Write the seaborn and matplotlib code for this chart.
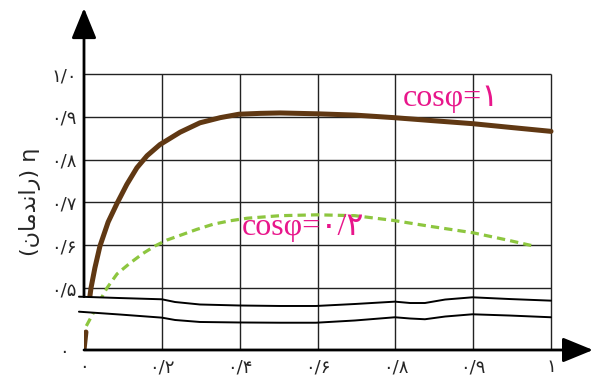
import numpy as np
import pandas as pd
import matplotlib
matplotlib.use("Agg")
import matplotlib.pyplot as plt
import seaborn as sns

# --- data ---
x_ticks = [0, 0.2, 0.4, 0.6, 0.8, 0.9, 1.0]
x_labels = ["۰", "۰/۲", "۰/۴", "۰/۶", "۰/۸", "۰/۹", "۱"]
y_ticks = [0, 0.5, 0.6, 0.7, 0.8, 0.9, 1.0]
y_labels = ["۰", "۰/۵", "۰/۶", "۰/۷", "۰/۸", "۰/۹", "۱/۰"]

# cos(phi) = 1  (load fraction, efficiency); short piece below the axis break
pf1_low_load = [0, 0.005]
pf1_low_eta = [0, 0.145]
pf1_load = [0.015, 0.018, 0.028, 0.041, 0.062, 0.085, 0.11, 0.136, 0.162, 0.195, 0.247,
            0.298, 0.35, 0.398, 0.452, 0.504, 0.599, 0.696, 0.797, 0.848, 0.899, 0.949, 1.0]
pf1_eta = [0.43, 0.5, 0.547, 0.598, 0.654, 0.698, 0.742, 0.781, 0.809, 0.835, 0.864,
           0.886, 0.898, 0.906, 0.908, 0.909, 0.907, 0.904, 0.898, 0.891, 0.884, 0.875, 0.866]

# cos(phi) = 0.2
pf2_load = [0.006, 0.023, 0.041, 0.059, 0.085, 0.118, 0.152, 0.182, 0.213, 0.247, 0.29,
            0.332, 0.375, 0.419, 0.504, 0.599, 0.696, 0.794, 0.845, 0.9, 0.944, 0.978]
pf2_eta = [0.194, 0.293, 0.399, 0.5, 0.533, 0.558, 0.581, 0.598, 0.612, 0.623, 0.637,
           0.649, 0.657, 0.663, 0.669, 0.671, 0.669, 0.658, 0.644, 0.629, 0.612, 0.598]

# axis-break marks (wavy lines between 0 and 0.5)
brk_x = [-0.013, 0.093, 0.2, 0.234, 0.298, 0.398, 0.504, 0.596, 0.696, 0.799, 0.819,
         0.838, 0.864, 0.899, 0.947, 1.0]
brk_upper = [0.43, 0.419, 0.409, 0.387, 0.367, 0.359, 0.355, 0.355, 0.371, 0.39, 0.379,
             0.379, 0.407, 0.425, 0.411, 0.398]
brk_lower = [0.309, 0.286, 0.261, 0.242, 0.226, 0.222, 0.22, 0.22, 0.238, 0.264, 0.254,
             0.248, 0.27, 0.288, 0.278, 0.264]

label_pf1 = "cosφ=۱"
label_pf2 = "cosφ=۰/۲"
# visual order, presentation forms (matplotlib does not shape Arabic script)
y_title = "(\ufee5\ufe8e\ufee3\ufeaa\ufee7\ufe8d\ufead) η"

BROWN = "#603813"
GREEN = "#8dc63f"
MAGENTA = "#e8168b"

SQ = 0.2897  # squeeze of the 0..0.5 part of the y axis


def y_fwd(v):
    v = np.asarray(v, dtype=float)
    return np.where(v < 0.5, v * SQ, v - 0.5 + 0.5 * SQ)


def y_inv(s):
    s = np.asarray(s, dtype=float)
    return np.where(s < 0.5 * SQ, s / SQ, s + 0.5 - 0.5 * SQ)


def x_fwd(x):
    x = np.asarray(x, dtype=float)
    return np.where(x <= 0.8, x / 0.2, 4 + (x - 0.8) / 0.1)


def x_inv(u):
    u = np.asarray(u, dtype=float)
    return np.where(u <= 4, u * 0.2, 0.8 + (u - 4) * 0.1)


sns.set_theme(style="white")
plt.rcParams["font.family"] = ["DejaVu Sans"]

fig = plt.figure(figsize=(5.97, 3.77), dpi=100)
ax = fig.add_axes([84 / 597, 27 / 377, 513 / 597, 350 / 377])
ax.set_xscale("function", functions=(x_fwd, x_inv))
ax.set_yscale("function", functions=(y_fwd, y_inv))
ax.set_xlim(0, 1.0591)
ax.set_ylim(0, 1.1729)
for s in ax.spines.values():
    s.set_visible(False)

# grid
ax.vlines(x_ticks[1:], 0, y_ticks[-1], colors="#222222", lw=1.0, zorder=1)
ax.hlines(y_ticks[1:], 0, x_ticks[-1], colors="#222222", lw=1.0, zorder=1)

# curves
sns.lineplot(x=pf1_low_load, y=pf1_low_eta, ax=ax, color=BROWN, lw=3.6, sort=False,
             estimator=None, zorder=2)
sns.lineplot(x=pf1_load, y=pf1_eta, ax=ax, color=BROWN, lw=3.6, sort=False,
             estimator=None, zorder=2)
sns.lineplot(x=pf2_load, y=pf2_eta, ax=ax, color=GREEN, lw=2.3, sort=False,
             estimator=None, linestyle=(0, (2.6, 1.6)), zorder=2)

# axis break
ax.fill_between(brk_x[:2], brk_lower[:2], brk_upper[:2], color="white", lw=0, zorder=3)
ax.plot(brk_x, brk_upper, color="black", lw=1.4, zorder=4, clip_on=False)
ax.plot(brk_x, brk_lower, color="black", lw=1.4, zorder=4, clip_on=False)

# axes arrows
arrow = dict(arrowstyle="-|>,head_length=1.1,head_width=0.45", lw=2.0, color="black",
             shrinkA=0, shrinkB=0, mutation_scale=17)
ax.annotate("", xy=(1.054, 0), xytext=(0, 0), arrowprops=arrow, zorder=5,
            annotation_clip=False)
ax.annotate("", xy=(0, 1.154), xytext=(0, brk_upper[0]), arrowprops=arrow,
            zorder=5, annotation_clip=False)

ax.set_xticks(x_ticks)
ax.set_xticklabels(x_labels, fontsize=13)
ax.set_yticks(y_ticks)
ax.set_yticklabels(y_labels, fontsize=13, ha="center")
ax.tick_params(axis="x", length=0, pad=6)
ax.tick_params(axis="y", length=0, pad=14.5)
ax.grid(False)

ax.text(0.809, 0.9256, label_pf1, color=MAGENTA, fontsize=23,
        family=["Liberation Serif", "DejaVu Sans"], va="baseline", ha="left", zorder=6)
ax.text(0.405, 0.623, label_pf2, color=MAGENTA, fontsize=23,
        family=["Liberation Serif", "DejaVu Sans"], va="baseline", ha="left", zorder=6)

fig.text(30 / 597, 1 - 202 / 377, y_title, rotation=90, ha="center", va="center",
         fontsize=16)

fig.savefig("out.png", dpi=100)
